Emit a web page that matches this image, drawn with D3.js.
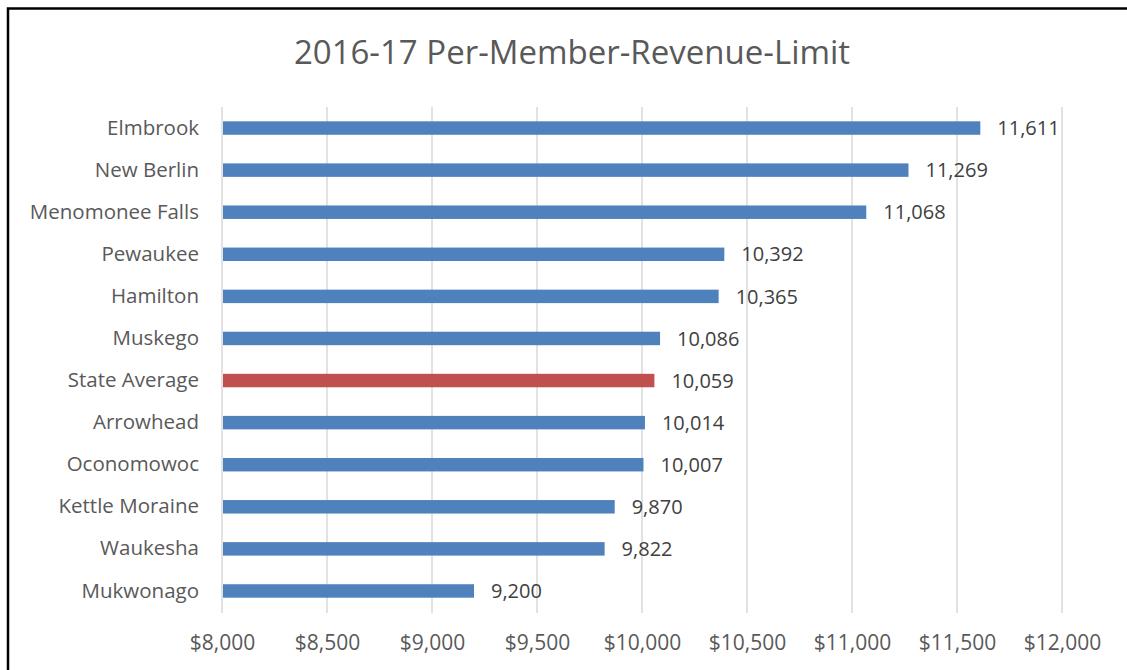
<!DOCTYPE html>
<html>
<head>
<meta charset="utf-8">
<script src="https://cdn.jsdelivr.net/npm/d3@7"></script>
<style>
  body { margin: 0; background: #fff; }
  svg { display: block; font-family: "Open Sans", sans-serif; }
</style>
</head>
<body>
<div id="chart"></div>
<script>
const districts = ["Elmbrook", "New Berlin", "Menomonee Falls", "Pewaukee", "Hamilton", "Muskego",
    "State Average", "Arrowhead", "Oconomowoc", "Kettle Moraine", "Waukesha", "Mukwonago"];
const revenueLimit = [11611, 11269, 11068, 10392, 10365, 10086, 10059, 10014, 10007, 9870, 9822, 9200];
const highlighted = ["State Average"];
const xTicks = [8000, 8500, 9000, 9500, 10000, 10500, 11000, 11500, 12000];
const title = "2016-17 Per-Member-Revenue-Limit";

(() => {
    const width = 1127, height = 670, margin = { top: 107, right: 65, bottom: 58, left: 222 };
    const innerW = width - margin.left - margin.right;
    const innerH = height - margin.top - margin.bottom;

    const data = districts.map((d, i) => ({ name: d, value: revenueLimit[i] }));

    const x = d3.scaleLinear()
        .domain([xTicks[0], xTicks[xTicks.length - 1]])
        .range([0, 840]);

    const y = d3.scaleBand()
        .domain(districts)
        .range([0, innerH])
        .paddingInner(0.68)
        .paddingOuter(0.34);

    const svg = d3.select("#chart")
        .append("svg")
        .attr("width", width)
        .attr("height", height);

    // border (top + left only visible)
    svg.append("path")
        .attr("d", "M8,670 L8,8.5 L1127,8.5")
        .attr("fill", "none")
        .attr("stroke", "#000")
        .attr("stroke-width", 2.5);

    svg.append("text")
        .attr("x", 572)
        .attr("y", 64)
        .attr("text-anchor", "middle")
        .style("font-size", "33px")
        .style("fill", "#595959")
        .text(title);

    const chart = svg.append("g")
        .attr("transform", `translate(${margin.left},${margin.top})`);

    // gridlines
    chart.selectAll(".grid")
        .data(xTicks)
        .enter()
        .append("line")
        .attr("class", "grid")
        .attr("x1", d => x(d))
        .attr("x2", d => x(d))
        .attr("y1", 0)
        .attr("y2", innerH + 1)
        .attr("stroke", "#d9d9d9")
        .attr("stroke-width", 1.5);

    // x axis labels
    const xAxis = chart.append("g")
        .attr("transform", `translate(0,${innerH})`)
        .call(d3.axisBottom(x)
            .tickValues(xTicks)
            .tickSize(0)
            .tickPadding(23)
            .tickFormat(d => "$" + d3.format(",")(d)));
    xAxis.select(".domain").remove();
    xAxis.selectAll("text")
        .style("font-size", "21px")
        .style("font-family", "'Open Sans', sans-serif")
        .style("fill", "#595959");

    // y axis labels
    const yAxis = chart.append("g")
        .call(d3.axisLeft(y).tickSize(0).tickPadding(23));
    yAxis.select(".domain").remove();
    yAxis.selectAll("text")
        .style("font-size", "20.5px")
        .style("font-family", "'Open Sans', sans-serif")
        .style("fill", "#595959");

    chart.selectAll(".bar")
        .data(data)
        .enter()
        .append("rect")
        .attr("class", "bar")
        .attr("x", x(xTicks[0]) + 1)
        .attr("y", d => y(d.name))
        .attr("width", d => x(d.value) - x(xTicks[0]) - 1)
        .attr("height", y.bandwidth())
        .attr("fill", d => highlighted.includes(d.name) ? "#c0504d" : "#4f81bd");

    chart.selectAll(".label")
        .data(data)
        .enter()
        .append("text")
        .attr("class", "label")
        .attr("x", d => x(d.value) + 17)
        .attr("y", d => y(d.name) + y.bandwidth() / 2)
        .attr("dy", ".36em")
        .text(d => d3.format(",")(d.value))
        .style("font-size", "20px")
        .style("fill", "#404040");
})();
</script>
</body>
</html>
